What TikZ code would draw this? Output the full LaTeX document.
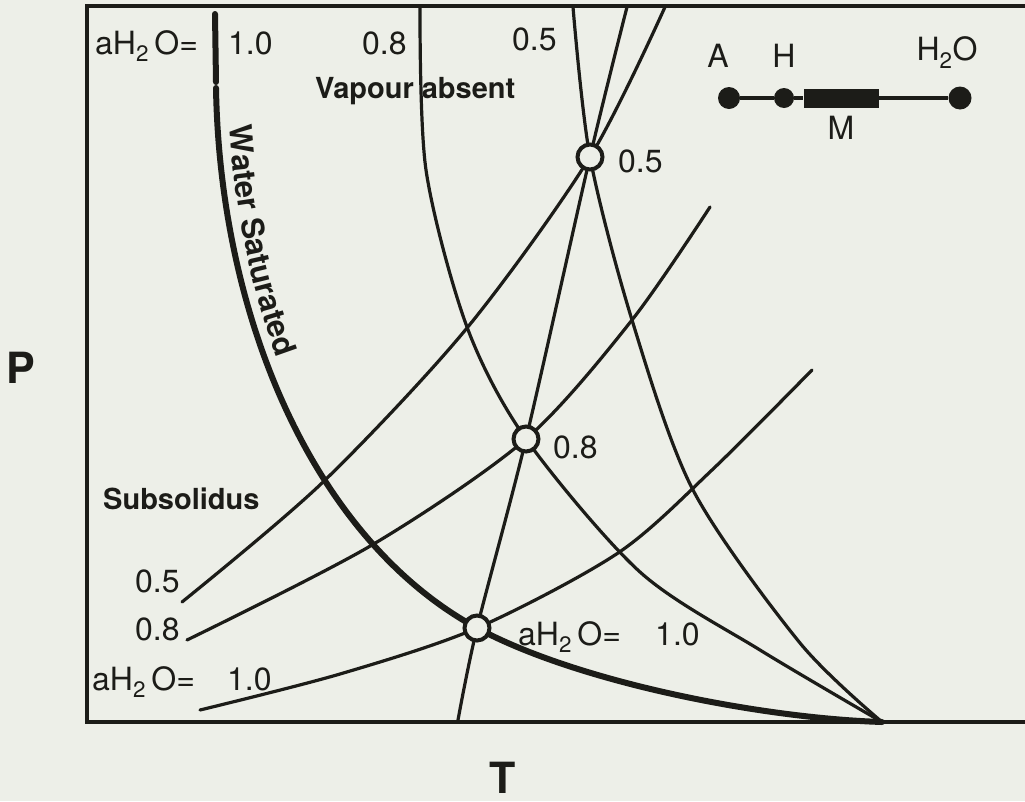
\documentclass[tikz,border=0pt]{standalone}
\usepackage{fontspec}
\setmainfont{TeX Gyre Heros}
\usepackage{tikz}
\usetikzlibrary{positioning,decorations.text}
\definecolor{paper}{HTML}{EDEFE8}
\definecolor{ink}{HTML}{1C1C18}
\tikzset{
  curve/.style={draw=ink,line width=3.2pt,line cap=round},
  wetcurve/.style={draw=ink,line width=6pt,line cap=round},
  frameline/.style={draw=ink,line width=3.2pt},
  invpoint/.style={circle,draw=ink,fill=paper,line width=4pt,minimum size=25pt,inner sep=0pt},
  lbl/.style={font=\fontsize{32}{36}\selectfont,text=ink,inner sep=0pt,anchor=base west},
  boldlbl/.style={font=\fontsize{29}{32}\selectfont\bfseries,text=ink,inner sep=0pt,anchor=base west},
  axislbl/.style={font=\fontsize{43}{48}\selectfont\bfseries,text=ink,inner sep=0pt},
  dot/.style={circle,fill=ink,inner sep=0pt,minimum size=22pt},
  bar/.style={rectangle,fill=ink,inner sep=0pt,minimum width=75pt,minimum height=19pt},
  link/.style={draw=ink,line width=3.2pt}
}
\newcommand{\awater}{aH\textsubscript{2}\,O=}
\newcommand{\wsfont}{\fontsize{31}{34}\selectfont\bfseries}

\begin{document}
\begin{tikzpicture}[x=1pt,y=-1pt]
  \useasboundingbox (0,0) rectangle (1025,801);
  \fill[paper] (0,0) rectangle (1025,801);

  % frame, open on the right
  \draw[frameline] (1025,6) -- (87,6) -- (87,722) -- (1025,722);

  % invariant points
  \coordinate (p05) at (590,157);
  \coordinate (p08) at (526,439);
  \coordinate (p10) at (477,628);
  \coordinate (cusp) at (882,722);

  % vapour-absent solidi
  \draw[curve] plot[smooth] coordinates {(420,7) (426,170) (467,327) (p08) (640,572) (760,650) (cusp)};
  \draw[curve] plot[smooth] coordinates {(573,7) (p05) (632,320) (693,490) (800,643) (cusp)};
  \draw[curve] plot[smooth] coordinates {(627,7) (p05) (p08) (p10) (458,720)};

  % dehydration curves
  \draw[curve] plot[smooth] coordinates {(182,602) (322,483) (467,328) (p05) (665,7)};
  \draw[curve] plot[smooth] coordinates {(187,640) (372,545) (p08) (632,320) (710,207)};
  \draw[curve] plot[smooth] coordinates {(200,710) (340,674) (p10) (618,553) (712,470) (812,370)};

  % water saturated solidus
  \draw[wetcurve] (215,14) -- (216,82);
  \draw[wetcurve] (216,88) .. controls (220,320) and (315,540) .. (p10)
    .. controls (577,682) and (760,718) .. (cusp);
  \path[xshift=12pt,decorate,decoration={text along path,text color=ink,
      text align={left indent=38pt},text={|\wsfont|Water Saturated}}]
    (216,88) .. controls (220,320) and (315,540) .. (477,628);

  \node[invpoint] (i05) at (p05) {};
  \node[invpoint] (i08) at (p08) {};
  \node[invpoint] (i10) at (p10) {};

  % labels
  \node[lbl] (tw) at (95,54) {\awater};
  \node[lbl] (t10) at (228,54) {1.0};
  \node[lbl] (t08) at (362,54) {0.8};
  \node[lbl] (t05) at (512,50) {0.5};
  \node[boldlbl] (vap) at (315,98) {Vapour absent};
  \node[boldlbl] (sub) at (103,509) {Subsolidus};
  \node[lbl] (l05) at (135,592) {0.5};
  \node[lbl] (l08) at (135,640) {0.8};
  \node[lbl] (lw) at (92,690) {\awater};
  \node[lbl] (l10) at (227,690) {1.0};
  \node[lbl] (r05) at (618,172) {0.5};
  \node[lbl] (r08) at (553,458) {0.8};
  \node[lbl] (rw) at (518,645) {\awater};
  \node[lbl] (r10) at (655,645) {1.0};
  \node[axislbl] (pax) at (21,368) {P};
  \node[axislbl] (tax) at (503,778) {T};

  % phase line inset
  \node[dot] (dA) at (729,98) {};
  \node[dot,minimum size=20pt] (dH) at (784,98) {};
  \node[bar] (mbar) at (841,98) {};
  \node[dot,minimum size=23pt] (dW) at (960,98) {};
  \draw[link] (dA) -- (dH) -- (mbar) -- (dW);
  \node[lbl,anchor=south,above=19pt of dA,xshift=-11pt] (nA) {A};
  \node[lbl,anchor=south,above=20pt of dH] (nH) {H};
  \node[lbl,anchor=south,above=18pt of dW,xshift=-13pt] (nW) {H\textsubscript{2}O};
  \node[lbl,anchor=north,below=8pt of mbar] (nM) {M};
\end{tikzpicture}
\end{document}
